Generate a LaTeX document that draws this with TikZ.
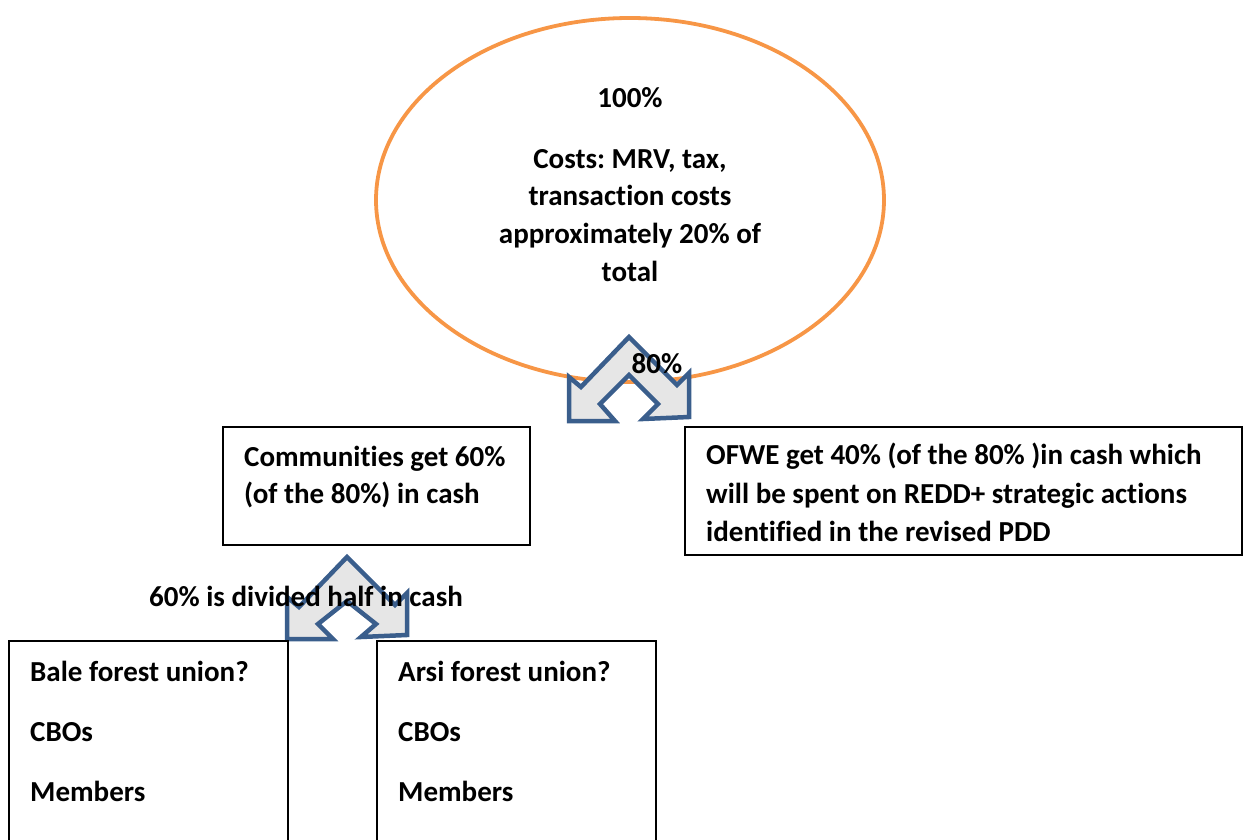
\documentclass[tikz,border=0pt]{standalone}
\usepackage{fontspec}
\setmainfont{Carlito}[Ligatures=NoCommon]
\frenchspacing
\begin{document}
\begin{tikzpicture}[x=1pt,y=-1pt,
  txt/.style={font=\fontsize{29}{38}\selectfont\bfseries, inner sep=0pt},
  boxst/.style={draw=black, line width=2pt},
  splitarrow/.style={draw={rgb,255:red,58;green,94;blue,140}, fill={rgb,255:red,230;green,230;blue,230}, line width=4.5pt, line join=miter},
  ovalst/.style={draw={rgb,255:red,247;green,150;blue,70}, line width=3.8pt}]
\useasboundingbox (0,0) rectangle (1243,840);
% ellipse
\draw[ovalst] (630,200) ellipse [x radius=254, y radius=182];
\node[txt, anchor=base] (t100) at (630,108) {100\%};
\node[txt, anchor=base] (tc1) at (630,168) {Costs: MRV, tax,};
\node[txt, anchor=base] (tc2) at (630,205) {transaction costs};
\node[txt, anchor=base] (tc3) at (630,243) {approximately 20\% of};
\node[txt, anchor=base] (tc4) at (630,281) {total};
% split arrow 1
\begin{scope}[shift={(629,337)}]
\draw[splitarrow] (0,0) -- (48,48) -- (60,36) -- (60,80) -- (14,82) -- (29,67) -- (0,38)
  -- (-29,67) -- (-14,84) -- (-60,84) -- (-60,40) -- (-48,50) -- cycle;
\end{scope}
\node[txt, anchor=base] (t80) at (657,373) {80\%};
% boxes
\draw[boxst] (223,427) rectangle (530,545);
\node[txt, anchor=base west] (com1) at (244,466) {Communities get 60\%};
\node[txt, anchor=base west] (com2) at (244,503) {(of the 80\%) in cash};
\draw[boxst] (685,427) rectangle (1242,555);
\node[txt, anchor=base west] (of1) at (706,464) {OFWE get 40\% (of the 80\% )in cash which};
\node[txt, anchor=base west] (of2) at (706,503) {will be spent on REDD+ strategic actions};
\node[txt, anchor=base west] (of3) at (706,541) {identified in the revised PDD};
% split arrow 2
\begin{scope}[shift={(347,557)}]
\draw[splitarrow] (0,0) -- (48,48) -- (60,36) -- (60,78) -- (14,80) -- (29,67) -- (0,44)
  -- (-29,67) -- (-14,82) -- (-60,82) -- (-60,40) -- (-48,50) -- cycle;
\end{scope}
\node[txt, anchor=base] (t60) at (306,606) {60\% is divided half in cash};
% bottom boxes
\draw[boxst] (9,860) -- (9,641) -- (288,641) -- (288,860);
\node[txt, anchor=base west] (b1) at (30,681) {Bale forest union?};
\node[txt, anchor=base west] (b2) at (30,741) {CBOs};
\node[txt, anchor=base west] (b3) at (30,801) {Members};
\draw[boxst] (377,860) -- (377,641) -- (656,641) -- (656,860);
\node[txt, anchor=base west] (a1) at (398,681) {Arsi forest union?};
\node[txt, anchor=base west] (a2) at (398,741) {CBOs};
\node[txt, anchor=base west] (a3) at (398,801) {Members};
\end{tikzpicture}
\end{document}
